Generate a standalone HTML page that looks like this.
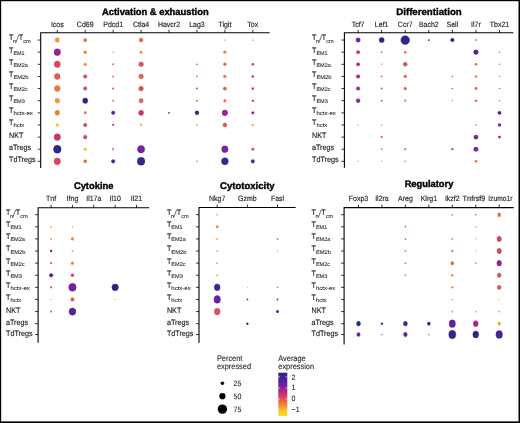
<!DOCTYPE html>
<html><head><meta charset="utf-8"><style>
html,body{margin:0;padding:0;background:#fff;}
.wrap{position:relative;width:520px;height:423px;overflow:hidden;background:#fff;}
svg{position:absolute;left:0;top:0;font-family:"Liberation Sans",sans-serif;will-change:transform;text-rendering:geometricPrecision;}
text{stroke:#231f20;stroke-width:0.15px;paint-order:fill;}
text[font-weight=bold]{stroke:#000;stroke-width:0.4px;}
text.s{stroke-width:0.08px;}
text.l{stroke-width:0.1px;}
</style></head><body><div class="wrap">
<svg width="520" height="423" viewBox="0 0 520 423" font-family="Liberation Sans, sans-serif">
<rect x="0" y="0" width="520" height="1.2" fill="#000"/><rect x="0" y="0" width="1.15" height="423" fill="#000"/><rect x="518.5" y="0" width="1.5" height="423" fill="#000"/><rect x="0" y="421.4" width="520" height="1.6" fill="#000"/>
<text x="155.3" y="14.6" text-anchor="middle" font-weight="bold" font-size="9.6" fill="#000" textLength="106.7" lengthAdjust="spacingAndGlyphs">Activation &amp; exhaustion</text>
<path d="M40.7 167.9V32.75H269.7" fill="none" stroke="#000" stroke-width="1.1"/>
<line x1="57.3" y1="32.75" x2="57.3" y2="29.75" stroke="#000" stroke-width="0.8"/>
<text transform="translate(57.3 26.6) scale(1 1.1)" text-anchor="middle" font-size="7.0" fill="#231f20">Icos</text>
<line x1="85.23" y1="32.75" x2="85.23" y2="29.75" stroke="#000" stroke-width="0.8"/>
<text transform="translate(85.23 26.6) scale(1 1.1)" text-anchor="middle" font-size="7.0" fill="#231f20">Cd69</text>
<line x1="113.16" y1="32.75" x2="113.16" y2="29.75" stroke="#000" stroke-width="0.8"/>
<text transform="translate(113.16 26.6) scale(1 1.1)" text-anchor="middle" font-size="7.0" fill="#231f20">Pdcd1</text>
<line x1="141.09" y1="32.75" x2="141.09" y2="29.75" stroke="#000" stroke-width="0.8"/>
<text transform="translate(141.09 26.6) scale(1 1.1)" text-anchor="middle" font-size="7.0" fill="#231f20">Ctla4</text>
<line x1="169.02" y1="32.75" x2="169.02" y2="29.75" stroke="#000" stroke-width="0.8"/>
<text transform="translate(169.02 26.6) scale(1 1.1)" text-anchor="middle" font-size="7.0" fill="#231f20">Havcr2</text>
<line x1="196.95" y1="32.75" x2="196.95" y2="29.75" stroke="#000" stroke-width="0.8"/>
<text transform="translate(196.95 26.6) scale(1 1.1)" text-anchor="middle" font-size="7.0" fill="#231f20">Lag3</text>
<line x1="224.88" y1="32.75" x2="224.88" y2="29.75" stroke="#000" stroke-width="0.8"/>
<text transform="translate(224.88 26.6) scale(1 1.1)" text-anchor="middle" font-size="7.0" fill="#231f20">Tigit</text>
<line x1="252.81" y1="32.75" x2="252.81" y2="29.75" stroke="#000" stroke-width="0.8"/>
<text transform="translate(252.81 26.6) scale(1 1.1)" text-anchor="middle" font-size="7.0" fill="#231f20">Tox</text>
<line x1="40.7" y1="40.05" x2="37.7" y2="40.05" stroke="#000" stroke-width="0.8"/>
<text transform="translate(9 40.45) scale(1 1.1)" font-size="7.2" fill="#231f20">T</text>
<text x="13.1" y="42.85" font-size="5.5" class="s" fill="#231f20">n</text>
<line x1="15.9" y1="42.65" x2="18.7" y2="35.25" stroke="#231f20" stroke-width="0.65"/>
<text transform="translate(18.8 40.45) scale(1 1.1)" font-size="7.2" fill="#231f20">T</text>
<text x="23.3" y="42.85" font-size="5.5" class="s" fill="#231f20" textLength="7.5" lengthAdjust="spacingAndGlyphs">cm</text>
<line x1="40.7" y1="52.18" x2="37.7" y2="52.18" stroke="#000" stroke-width="0.8"/>
<text transform="translate(9 52.58) scale(1 1.1)" font-size="7.2" fill="#231f20">T</text>
<text x="13.4" y="54.68" font-size="5.5" class="s" fill="#231f20" textLength="11.2" lengthAdjust="spacingAndGlyphs">EM1</text>
<line x1="40.7" y1="64.31" x2="37.7" y2="64.31" stroke="#000" stroke-width="0.8"/>
<text transform="translate(9 64.71) scale(1 1.1)" font-size="7.2" fill="#231f20">T</text>
<text x="13.4" y="66.81" font-size="5.5" class="s" fill="#231f20" textLength="14.5" lengthAdjust="spacingAndGlyphs">EM2a</text>
<line x1="40.7" y1="76.44" x2="37.7" y2="76.44" stroke="#000" stroke-width="0.8"/>
<text transform="translate(9 76.84) scale(1 1.1)" font-size="7.2" fill="#231f20">T</text>
<text x="13.4" y="78.94" font-size="5.5" class="s" fill="#231f20" textLength="15.2" lengthAdjust="spacingAndGlyphs">EM2b</text>
<line x1="40.7" y1="88.57" x2="37.7" y2="88.57" stroke="#000" stroke-width="0.8"/>
<text transform="translate(9 88.97) scale(1 1.1)" font-size="7.2" fill="#231f20">T</text>
<text x="13.4" y="91.07" font-size="5.5" class="s" fill="#231f20" textLength="14.2" lengthAdjust="spacingAndGlyphs">EM2c</text>
<line x1="40.7" y1="100.7" x2="37.7" y2="100.7" stroke="#000" stroke-width="0.8"/>
<text transform="translate(9 101.1) scale(1 1.1)" font-size="7.2" fill="#231f20">T</text>
<text x="13.4" y="103.2" font-size="5.5" class="s" fill="#231f20" textLength="11.5" lengthAdjust="spacingAndGlyphs">EM3</text>
<line x1="40.7" y1="112.83" x2="37.7" y2="112.83" stroke="#000" stroke-width="0.8"/>
<text transform="translate(9 113.23) scale(1 1.1)" font-size="7.2" fill="#231f20">T</text>
<text x="13.4" y="115.33" font-size="5.5" class="s" fill="#231f20" textLength="19.4" lengthAdjust="spacingAndGlyphs">hctx-ex</text>
<line x1="40.7" y1="124.96" x2="37.7" y2="124.96" stroke="#000" stroke-width="0.8"/>
<text transform="translate(9 125.36) scale(1 1.1)" font-size="7.2" fill="#231f20">T</text>
<text x="13.4" y="127.46" font-size="5.5" class="s" fill="#231f20" textLength="10.9" lengthAdjust="spacingAndGlyphs">hctx</text>
<line x1="40.7" y1="137.09" x2="37.7" y2="137.09" stroke="#000" stroke-width="0.8"/>
<text transform="translate(9 138.19) scale(1 1.1)" font-size="7.2" fill="#231f20">NKT</text>
<line x1="40.7" y1="149.22" x2="37.7" y2="149.22" stroke="#000" stroke-width="0.8"/>
<text transform="translate(9 150.32) scale(1 1.1)" font-size="7.2" fill="#231f20">aTregs</text>
<line x1="40.7" y1="161.35" x2="37.7" y2="161.35" stroke="#000" stroke-width="0.8"/>
<text transform="translate(9 162.45) scale(1 1.1)" font-size="7.2" fill="#231f20">TdTregs</text>
<ellipse cx="57.3" cy="40.05" rx="2.15" ry="2.27" fill="#f89e29" stroke="#c67e20" stroke-width="0.4"/>
<ellipse cx="85.23" cy="40.05" rx="1.55" ry="1.64" fill="#ea6a43" stroke="#bb5435" stroke-width="0.4"/>
<ellipse cx="141.09" cy="40.05" rx="1.9" ry="2" fill="#ea6a43" stroke="#bb5435" stroke-width="0.4"/>
<ellipse cx="224.88" cy="40.05" rx="0.85" ry="0.89" fill="#f8a924"/>
<ellipse cx="252.81" cy="40.05" rx="0.85" ry="0.89" fill="#f8962c"/>
<ellipse cx="57.3" cy="52.18" rx="3.25" ry="3.42" fill="#9e2097" stroke="#7e1978" stroke-width="0.4"/>
<ellipse cx="85.23" cy="52.18" rx="1.65" ry="1.73" fill="#f78831"/>
<ellipse cx="113.16" cy="52.18" rx="0.75" ry="0.79" fill="#f68632"/>
<ellipse cx="141.09" cy="52.18" rx="1.5" ry="1.58" fill="#f8962c"/>
<ellipse cx="224.88" cy="52.18" rx="1.6" ry="1.68" fill="#f68632"/>
<ellipse cx="57.3" cy="64.31" rx="3.05" ry="3.21" fill="#dc475c" stroke="#b03849" stroke-width="0.4"/>
<ellipse cx="85.23" cy="64.31" rx="1.6" ry="1.68" fill="#f88e2e"/>
<ellipse cx="113.16" cy="64.31" rx="1" ry="1.05" fill="#e6604b"/>
<ellipse cx="141.09" cy="64.31" rx="2.3" ry="2.42" fill="#e15356" stroke="#b44244" stroke-width="0.4"/>
<ellipse cx="196.95" cy="64.31" rx="0.85" ry="0.89" fill="#e15356"/>
<ellipse cx="224.88" cy="64.31" rx="1.7" ry="1.78" fill="#ec6e40"/>
<ellipse cx="252.81" cy="64.31" rx="1.25" ry="1.31" fill="#d2336d"/>
<ellipse cx="57.3" cy="76.44" rx="2.85" ry="3" fill="#e55d4e" stroke="#b74a3e" stroke-width="0.4"/>
<ellipse cx="85.23" cy="76.44" rx="1.7" ry="1.79" fill="#dc475c" stroke="#b03849" stroke-width="0.4"/>
<ellipse cx="113.16" cy="76.44" rx="0.9" ry="0.95" fill="#e86448"/>
<ellipse cx="141.09" cy="76.44" rx="2.3" ry="2.42" fill="#ea6a43" stroke="#bb5435" stroke-width="0.4"/>
<ellipse cx="196.95" cy="76.44" rx="0.8" ry="0.84" fill="#e86448"/>
<ellipse cx="224.88" cy="76.44" rx="1.7" ry="1.78" fill="#f37e35"/>
<ellipse cx="252.81" cy="76.44" rx="1.25" ry="1.31" fill="#ca2d77"/>
<ellipse cx="57.3" cy="88.57" rx="2.8" ry="2.95" fill="#ee743b" stroke="#be5c2f" stroke-width="0.4"/>
<ellipse cx="85.23" cy="88.57" rx="1.7" ry="1.79" fill="#de4b5a" stroke="#b13c48" stroke-width="0.4"/>
<ellipse cx="113.16" cy="88.57" rx="1" ry="1.05" fill="#dc475c"/>
<ellipse cx="141.09" cy="88.57" rx="2.3" ry="2.42" fill="#df4e59" stroke="#b23e47" stroke-width="0.4"/>
<ellipse cx="196.95" cy="88.57" rx="1" ry="1.05" fill="#d63b65"/>
<ellipse cx="224.88" cy="88.57" rx="1.6" ry="1.69" fill="#e6604b" stroke="#b84c3c" stroke-width="0.4"/>
<ellipse cx="252.81" cy="88.57" rx="1.25" ry="1.31" fill="#ca2d77"/>
<ellipse cx="57.3" cy="100.7" rx="2.3" ry="2.42" fill="#f89e29" stroke="#c67e20" stroke-width="0.4"/>
<ellipse cx="85.23" cy="100.7" rx="2.55" ry="2.69" fill="#2b268a" stroke="#221e6e" stroke-width="0.4"/>
<ellipse cx="113.16" cy="100.7" rx="0.95" ry="1" fill="#e86448"/>
<ellipse cx="141.09" cy="100.7" rx="2.15" ry="2.27" fill="#ea6a43" stroke="#bb5435" stroke-width="0.4"/>
<ellipse cx="196.95" cy="100.7" rx="0.9" ry="0.95" fill="#dc475c"/>
<ellipse cx="224.88" cy="100.7" rx="1.6" ry="1.68" fill="#f68632"/>
<ellipse cx="252.81" cy="100.7" rx="1.15" ry="1.21" fill="#d73e62"/>
<ellipse cx="57.3" cy="112.83" rx="2.35" ry="2.48" fill="#f37e35" stroke="#c2642a" stroke-width="0.4"/>
<ellipse cx="85.23" cy="112.83" rx="1.4" ry="1.47" fill="#ec6e40"/>
<ellipse cx="113.16" cy="112.83" rx="1.7" ry="1.79" fill="#4c239c" stroke="#3c1c7c" stroke-width="0.4"/>
<ellipse cx="141.09" cy="112.83" rx="2.45" ry="2.58" fill="#d2336d" stroke="#a82857" stroke-width="0.4"/>
<ellipse cx="169.02" cy="112.83" rx="0.85" ry="0.89" fill="#382594"/>
<ellipse cx="196.95" cy="112.83" rx="1.9" ry="2" fill="#2b268a" stroke="#221e6e" stroke-width="0.4"/>
<ellipse cx="224.88" cy="112.83" rx="2.8" ry="2.95" fill="#a22096" stroke="#811978" stroke-width="0.4"/>
<ellipse cx="252.81" cy="112.83" rx="1.5" ry="1.58" fill="#ac2192"/>
<ellipse cx="57.3" cy="124.96" rx="1.7" ry="1.78" fill="#f8c820"/>
<ellipse cx="85.23" cy="124.96" rx="1.7" ry="1.79" fill="#dc475c" stroke="#b03849" stroke-width="0.4"/>
<ellipse cx="113.16" cy="124.96" rx="1.05" ry="1.1" fill="#d2336d"/>
<ellipse cx="141.09" cy="124.96" rx="1.05" ry="1.1" fill="#f89e29"/>
<ellipse cx="196.95" cy="124.96" rx="0.85" ry="0.89" fill="#f68632"/>
<ellipse cx="224.88" cy="124.96" rx="1.9" ry="2" fill="#e15356" stroke="#b44244" stroke-width="0.4"/>
<ellipse cx="252.81" cy="124.96" rx="0.95" ry="1" fill="#f37e35"/>
<ellipse cx="57.3" cy="137.09" rx="3.2" ry="3.37" fill="#d2336d" stroke="#a82857" stroke-width="0.4"/>
<ellipse cx="85.23" cy="137.09" rx="1.8" ry="1.9" fill="#da445e" stroke="#ae364b" stroke-width="0.4"/>
<ellipse cx="57.3" cy="149.22" rx="3.8" ry="4" fill="#2f258d" stroke="#251d70" stroke-width="0.4"/>
<ellipse cx="85.23" cy="149.22" rx="1.4" ry="1.47" fill="#f8b820"/>
<ellipse cx="113.16" cy="149.22" rx="1.05" ry="1.1" fill="#e96746"/>
<ellipse cx="141.09" cy="149.22" rx="3.6" ry="3.79" fill="#7c209f" stroke="#63197f" stroke-width="0.4"/>
<ellipse cx="224.88" cy="149.22" rx="3.2" ry="3.37" fill="#84209d" stroke="#69197d" stroke-width="0.4"/>
<ellipse cx="252.81" cy="149.22" rx="1.4" ry="1.47" fill="#dc475c"/>
<ellipse cx="57.3" cy="161.35" rx="3.2" ry="3.37" fill="#da445e" stroke="#ae364b" stroke-width="0.4"/>
<ellipse cx="85.23" cy="161.35" rx="1.7" ry="1.78" fill="#ea6a43"/>
<ellipse cx="113.16" cy="161.35" rx="1.7" ry="1.79" fill="#44249b" stroke="#361c7c" stroke-width="0.4"/>
<ellipse cx="141.09" cy="161.35" rx="3.8" ry="4" fill="#342590" stroke="#291d73" stroke-width="0.4"/>
<ellipse cx="196.95" cy="161.35" rx="0.85" ry="0.89" fill="#f78831"/>
<ellipse cx="224.88" cy="161.35" rx="3.4" ry="3.58" fill="#3d2498" stroke="#301c79" stroke-width="0.4"/>
<ellipse cx="252.81" cy="161.35" rx="1.7" ry="1.79" fill="#50239d" stroke="#401c7d" stroke-width="0.4"/>
<text x="429" y="14.7" text-anchor="middle" font-weight="bold" font-size="9.6" fill="#000" textLength="65.4" lengthAdjust="spacingAndGlyphs">Differentiation</text>
<path d="M344.4 167.8V32.8H513.3" fill="none" stroke="#000" stroke-width="1.1"/>
<line x1="358.1" y1="32.8" x2="358.1" y2="29.8" stroke="#000" stroke-width="0.8"/>
<text transform="translate(358.1 26.6) scale(1 1.1)" text-anchor="middle" font-size="7.0" fill="#231f20">Tcf7</text>
<line x1="381.67" y1="32.8" x2="381.67" y2="29.8" stroke="#000" stroke-width="0.8"/>
<text transform="translate(381.67 26.6) scale(1 1.1)" text-anchor="middle" font-size="7.0" fill="#231f20">Lef1</text>
<line x1="405.24" y1="32.8" x2="405.24" y2="29.8" stroke="#000" stroke-width="0.8"/>
<text transform="translate(405.24 26.6) scale(1 1.1)" text-anchor="middle" font-size="7.0" fill="#231f20">Ccr7</text>
<line x1="428.81" y1="32.8" x2="428.81" y2="29.8" stroke="#000" stroke-width="0.8"/>
<text transform="translate(428.81 26.6) scale(1 1.1)" text-anchor="middle" font-size="7.0" fill="#231f20">Bach2</text>
<line x1="452.38" y1="32.8" x2="452.38" y2="29.8" stroke="#000" stroke-width="0.8"/>
<text transform="translate(452.38 26.6) scale(1 1.1)" text-anchor="middle" font-size="7.0" fill="#231f20">Sell</text>
<line x1="475.95" y1="32.8" x2="475.95" y2="29.8" stroke="#000" stroke-width="0.8"/>
<text transform="translate(475.95 26.6) scale(1 1.1)" text-anchor="middle" font-size="7.0" fill="#231f20">Il7r</text>
<line x1="499.52" y1="32.8" x2="499.52" y2="29.8" stroke="#000" stroke-width="0.8"/>
<text transform="translate(499.52 26.6) scale(1 1.1)" text-anchor="middle" font-size="7.0" fill="#231f20">Tbx21</text>
<line x1="344.4" y1="40.05" x2="341.4" y2="40.05" stroke="#000" stroke-width="0.8"/>
<text transform="translate(312 40.45) scale(1 1.1)" font-size="7.2" fill="#231f20">T</text>
<text x="316.1" y="42.85" font-size="5.5" class="s" fill="#231f20">n</text>
<line x1="318.9" y1="42.65" x2="321.7" y2="35.25" stroke="#231f20" stroke-width="0.65"/>
<text transform="translate(321.8 40.45) scale(1 1.1)" font-size="7.2" fill="#231f20">T</text>
<text x="326.3" y="42.85" font-size="5.5" class="s" fill="#231f20" textLength="7.5" lengthAdjust="spacingAndGlyphs">cm</text>
<line x1="344.4" y1="52.18" x2="341.4" y2="52.18" stroke="#000" stroke-width="0.8"/>
<text transform="translate(312 52.58) scale(1 1.1)" font-size="7.2" fill="#231f20">T</text>
<text x="316.4" y="54.68" font-size="5.5" class="s" fill="#231f20" textLength="11.2" lengthAdjust="spacingAndGlyphs">EM1</text>
<line x1="344.4" y1="64.31" x2="341.4" y2="64.31" stroke="#000" stroke-width="0.8"/>
<text transform="translate(312 64.71) scale(1 1.1)" font-size="7.2" fill="#231f20">T</text>
<text x="316.4" y="66.81" font-size="5.5" class="s" fill="#231f20" textLength="14.5" lengthAdjust="spacingAndGlyphs">EM2a</text>
<line x1="344.4" y1="76.44" x2="341.4" y2="76.44" stroke="#000" stroke-width="0.8"/>
<text transform="translate(312 76.84) scale(1 1.1)" font-size="7.2" fill="#231f20">T</text>
<text x="316.4" y="78.94" font-size="5.5" class="s" fill="#231f20" textLength="15.2" lengthAdjust="spacingAndGlyphs">EM2b</text>
<line x1="344.4" y1="88.57" x2="341.4" y2="88.57" stroke="#000" stroke-width="0.8"/>
<text transform="translate(312 88.97) scale(1 1.1)" font-size="7.2" fill="#231f20">T</text>
<text x="316.4" y="91.07" font-size="5.5" class="s" fill="#231f20" textLength="14.2" lengthAdjust="spacingAndGlyphs">EM2c</text>
<line x1="344.4" y1="100.7" x2="341.4" y2="100.7" stroke="#000" stroke-width="0.8"/>
<text transform="translate(312 101.1) scale(1 1.1)" font-size="7.2" fill="#231f20">T</text>
<text x="316.4" y="103.2" font-size="5.5" class="s" fill="#231f20" textLength="11.5" lengthAdjust="spacingAndGlyphs">EM3</text>
<line x1="344.4" y1="112.83" x2="341.4" y2="112.83" stroke="#000" stroke-width="0.8"/>
<text transform="translate(312 113.23) scale(1 1.1)" font-size="7.2" fill="#231f20">T</text>
<text x="316.4" y="115.33" font-size="5.5" class="s" fill="#231f20" textLength="19.4" lengthAdjust="spacingAndGlyphs">hctx-ex</text>
<line x1="344.4" y1="124.96" x2="341.4" y2="124.96" stroke="#000" stroke-width="0.8"/>
<text transform="translate(312 125.36) scale(1 1.1)" font-size="7.2" fill="#231f20">T</text>
<text x="316.4" y="127.46" font-size="5.5" class="s" fill="#231f20" textLength="10.9" lengthAdjust="spacingAndGlyphs">hctx</text>
<line x1="344.4" y1="137.09" x2="341.4" y2="137.09" stroke="#000" stroke-width="0.8"/>
<text transform="translate(312 138.19) scale(1 1.1)" font-size="7.2" fill="#231f20">NKT</text>
<line x1="344.4" y1="149.22" x2="341.4" y2="149.22" stroke="#000" stroke-width="0.8"/>
<text transform="translate(312 150.32) scale(1 1.1)" font-size="7.2" fill="#231f20">aTregs</text>
<line x1="344.4" y1="161.35" x2="341.4" y2="161.35" stroke="#000" stroke-width="0.8"/>
<text transform="translate(312 162.45) scale(1 1.1)" font-size="7.2" fill="#231f20">TdTregs</text>
<ellipse cx="358.1" cy="40.05" rx="2.2" ry="2.2" fill="#80209e" stroke="#66197e" stroke-width="0.4"/>
<ellipse cx="381.67" cy="40.05" rx="2.55" ry="2.55" fill="#2b268a" stroke="#221e6e" stroke-width="0.4"/>
<ellipse cx="405.24" cy="40.05" rx="4.35" ry="4.35" fill="#2b268a" stroke="#221e6e" stroke-width="0.4"/>
<ellipse cx="428.81" cy="40.05" rx="0.9" ry="0.9" fill="#2f258d"/>
<ellipse cx="452.38" cy="40.05" rx="1.8" ry="1.8" fill="#2b268a" stroke="#221e6e" stroke-width="0.4"/>
<ellipse cx="475.95" cy="40.05" rx="1.1" ry="1.1" fill="#f8922d"/>
<ellipse cx="358.1" cy="52.18" rx="1.65" ry="1.65" fill="#d2336d" stroke="#a82857" stroke-width="0.4"/>
<ellipse cx="381.67" cy="52.18" rx="0.9" ry="0.9" fill="#ea6a43"/>
<ellipse cx="405.24" cy="52.18" rx="1.3" ry="1.3" fill="#ec6e40"/>
<ellipse cx="475.95" cy="52.18" rx="2.35" ry="2.35" fill="#60219f" stroke="#4c1a7f" stroke-width="0.4"/>
<ellipse cx="499.52" cy="52.18" rx="0.8" ry="0.8" fill="#e96746"/>
<ellipse cx="358.1" cy="64.31" rx="1.65" ry="1.65" fill="#b8258a" stroke="#931d6e" stroke-width="0.4"/>
<ellipse cx="381.67" cy="64.31" rx="0.8" ry="0.8" fill="#f78831"/>
<ellipse cx="405.24" cy="64.31" rx="2" ry="2" fill="#e15356" stroke="#b44244" stroke-width="0.4"/>
<ellipse cx="475.95" cy="64.31" rx="1.3" ry="1.3" fill="#ea6a43"/>
<ellipse cx="499.52" cy="64.31" rx="0.8" ry="0.8" fill="#e96746"/>
<ellipse cx="358.1" cy="76.44" rx="1.8" ry="1.8" fill="#b8258a" stroke="#931d6e" stroke-width="0.4"/>
<ellipse cx="381.67" cy="76.44" rx="0.9" ry="0.9" fill="#e86448"/>
<ellipse cx="405.24" cy="76.44" rx="1.65" ry="1.65" fill="#e96746"/>
<ellipse cx="452.38" cy="76.44" rx="0.8" ry="0.8" fill="#dc475c"/>
<ellipse cx="475.95" cy="76.44" rx="1.3" ry="1.3" fill="#f37e35"/>
<ellipse cx="499.52" cy="76.44" rx="0.8" ry="0.8" fill="#f37e35"/>
<ellipse cx="358.1" cy="88.57" rx="1.8" ry="1.8" fill="#b2238e" stroke="#8e1c71" stroke-width="0.4"/>
<ellipse cx="381.67" cy="88.57" rx="0.95" ry="0.95" fill="#dc475c"/>
<ellipse cx="405.24" cy="88.57" rx="1.65" ry="1.65" fill="#e6604b"/>
<ellipse cx="452.38" cy="88.57" rx="0.8" ry="0.8" fill="#d2336d"/>
<ellipse cx="475.95" cy="88.57" rx="1.45" ry="1.45" fill="#ea6a43"/>
<ellipse cx="499.52" cy="88.57" rx="0.8" ry="0.8" fill="#df4e59"/>
<ellipse cx="358.1" cy="100.7" rx="2" ry="2" fill="#972099" stroke="#78197a" stroke-width="0.4"/>
<ellipse cx="381.67" cy="100.7" rx="0.95" ry="0.95" fill="#e15356"/>
<ellipse cx="405.24" cy="100.7" rx="1.1" ry="1.1" fill="#ee743b"/>
<ellipse cx="452.38" cy="100.7" rx="0.6" ry="0.6" fill="#df4e59"/>
<ellipse cx="475.95" cy="100.7" rx="1.3" ry="1.3" fill="#ec6e40"/>
<ellipse cx="499.52" cy="100.7" rx="0.8" ry="0.8" fill="#e55d4e"/>
<ellipse cx="499.52" cy="112.83" rx="1.65" ry="1.65" fill="#44249b" stroke="#361c7c" stroke-width="0.4"/>
<ellipse cx="358.1" cy="124.96" rx="0.8" ry="0.8" fill="#f89e29"/>
<ellipse cx="381.67" cy="124.96" rx="0.8" ry="0.8" fill="#f68632"/>
<ellipse cx="475.95" cy="124.96" rx="0.9" ry="0.9" fill="#f8962c"/>
<ellipse cx="499.52" cy="124.96" rx="1.65" ry="1.65" fill="#7820a0"/>
<ellipse cx="381.67" cy="137.09" rx="1.1" ry="1.1" fill="#e15356"/>
<ellipse cx="475.95" cy="137.09" rx="2.2" ry="2.2" fill="#8b209b" stroke="#6f197c" stroke-width="0.4"/>
<ellipse cx="499.52" cy="137.09" rx="1.45" ry="1.45" fill="#b2238e"/>
<ellipse cx="381.67" cy="149.22" rx="0.9" ry="0.9" fill="#ee743b"/>
<ellipse cx="405.24" cy="149.22" rx="1.1" ry="1.1" fill="#ea6a43"/>
<ellipse cx="452.38" cy="149.22" rx="1.1" ry="1.1" fill="#b2238e"/>
<ellipse cx="475.95" cy="149.22" rx="2.2" ry="2.2" fill="#84209d" stroke="#69197d" stroke-width="0.4"/>
<ellipse cx="358.1" cy="161.35" rx="0.75" ry="0.75" fill="#f8a526"/>
<ellipse cx="381.67" cy="161.35" rx="0.75" ry="0.75" fill="#f89e29"/>
<ellipse cx="405.24" cy="161.35" rx="0.9" ry="0.9" fill="#f68632"/>
<ellipse cx="475.95" cy="161.35" rx="1.3" ry="1.3" fill="#ee743b"/>
<text x="93.7" y="188.6" text-anchor="middle" font-weight="bold" font-size="9.6" fill="#000" textLength="39.6" lengthAdjust="spacingAndGlyphs">Cytokine</text>
<path d="M38.1 342.8V207.8H149.2" fill="none" stroke="#000" stroke-width="1.1"/>
<line x1="51.1" y1="207.8" x2="51.1" y2="204.8" stroke="#000" stroke-width="0.8"/>
<text transform="translate(51.1 200.9) scale(1 1.1)" text-anchor="middle" font-size="7.0" fill="#231f20">Tnf</text>
<line x1="72.45" y1="207.8" x2="72.45" y2="204.8" stroke="#000" stroke-width="0.8"/>
<text transform="translate(72.45 200.9) scale(1 1.1)" text-anchor="middle" font-size="7.0" fill="#231f20">Ifng</text>
<line x1="93.8" y1="207.8" x2="93.8" y2="204.8" stroke="#000" stroke-width="0.8"/>
<text transform="translate(93.8 200.9) scale(1 1.1)" text-anchor="middle" font-size="7.0" fill="#231f20">Il17a</text>
<line x1="115.15" y1="207.8" x2="115.15" y2="204.8" stroke="#000" stroke-width="0.8"/>
<text transform="translate(115.15 200.9) scale(1 1.1)" text-anchor="middle" font-size="7.0" fill="#231f20">Il10</text>
<line x1="136.5" y1="207.8" x2="136.5" y2="204.8" stroke="#000" stroke-width="0.8"/>
<text transform="translate(136.5 200.9) scale(1 1.1)" text-anchor="middle" font-size="7.0" fill="#231f20">Il21</text>
<line x1="38.1" y1="214.7" x2="35.1" y2="214.7" stroke="#000" stroke-width="0.8"/>
<text transform="translate(6 215.1) scale(1 1.1)" font-size="7.2" fill="#231f20">T</text>
<text x="10.1" y="217.5" font-size="5.5" class="s" fill="#231f20">n</text>
<line x1="12.9" y1="217.3" x2="15.7" y2="209.9" stroke="#231f20" stroke-width="0.65"/>
<text transform="translate(15.8 215.1) scale(1 1.1)" font-size="7.2" fill="#231f20">T</text>
<text x="20.3" y="217.5" font-size="5.5" class="s" fill="#231f20" textLength="7.5" lengthAdjust="spacingAndGlyphs">cm</text>
<line x1="38.1" y1="226.81" x2="35.1" y2="226.81" stroke="#000" stroke-width="0.8"/>
<text transform="translate(6 227.21) scale(1 1.1)" font-size="7.2" fill="#231f20">T</text>
<text x="10.4" y="229.31" font-size="5.5" class="s" fill="#231f20" textLength="11.2" lengthAdjust="spacingAndGlyphs">EM1</text>
<line x1="38.1" y1="238.92" x2="35.1" y2="238.92" stroke="#000" stroke-width="0.8"/>
<text transform="translate(6 239.32) scale(1 1.1)" font-size="7.2" fill="#231f20">T</text>
<text x="10.4" y="241.42" font-size="5.5" class="s" fill="#231f20" textLength="14.5" lengthAdjust="spacingAndGlyphs">EM2a</text>
<line x1="38.1" y1="251.03" x2="35.1" y2="251.03" stroke="#000" stroke-width="0.8"/>
<text transform="translate(6 251.43) scale(1 1.1)" font-size="7.2" fill="#231f20">T</text>
<text x="10.4" y="253.53" font-size="5.5" class="s" fill="#231f20" textLength="15.2" lengthAdjust="spacingAndGlyphs">EM2b</text>
<line x1="38.1" y1="263.14" x2="35.1" y2="263.14" stroke="#000" stroke-width="0.8"/>
<text transform="translate(6 263.54) scale(1 1.1)" font-size="7.2" fill="#231f20">T</text>
<text x="10.4" y="265.64" font-size="5.5" class="s" fill="#231f20" textLength="14.2" lengthAdjust="spacingAndGlyphs">EM2c</text>
<line x1="38.1" y1="275.25" x2="35.1" y2="275.25" stroke="#000" stroke-width="0.8"/>
<text transform="translate(6 275.65) scale(1 1.1)" font-size="7.2" fill="#231f20">T</text>
<text x="10.4" y="277.75" font-size="5.5" class="s" fill="#231f20" textLength="11.5" lengthAdjust="spacingAndGlyphs">EM3</text>
<line x1="38.1" y1="287.36" x2="35.1" y2="287.36" stroke="#000" stroke-width="0.8"/>
<text transform="translate(6 287.76) scale(1 1.1)" font-size="7.2" fill="#231f20">T</text>
<text x="10.4" y="289.86" font-size="5.5" class="s" fill="#231f20" textLength="19.4" lengthAdjust="spacingAndGlyphs">hctx-ex</text>
<line x1="38.1" y1="299.47" x2="35.1" y2="299.47" stroke="#000" stroke-width="0.8"/>
<text transform="translate(6 299.87) scale(1 1.1)" font-size="7.2" fill="#231f20">T</text>
<text x="10.4" y="301.97" font-size="5.5" class="s" fill="#231f20" textLength="10.9" lengthAdjust="spacingAndGlyphs">hctx</text>
<line x1="38.1" y1="311.58" x2="35.1" y2="311.58" stroke="#000" stroke-width="0.8"/>
<text transform="translate(6 312.68) scale(1 1.1)" font-size="7.2" fill="#231f20">NKT</text>
<line x1="38.1" y1="323.69" x2="35.1" y2="323.69" stroke="#000" stroke-width="0.8"/>
<text transform="translate(6 324.79) scale(1 1.1)" font-size="7.2" fill="#231f20">aTregs</text>
<line x1="38.1" y1="334.5" x2="35.1" y2="334.5" stroke="#000" stroke-width="0.8"/>
<text transform="translate(6 335.6) scale(1 1.1)" font-size="7.2" fill="#231f20">TdTregs</text>
<ellipse cx="51.1" cy="226.81" rx="0.85" ry="0.89" fill="#f8962c"/>
<ellipse cx="72.45" cy="226.81" rx="0.75" ry="0.79" fill="#f89e29"/>
<ellipse cx="51.1" cy="238.92" rx="0.85" ry="0.89" fill="#f68632"/>
<ellipse cx="72.45" cy="238.92" rx="1.5" ry="1.58" fill="#f37e35"/>
<ellipse cx="51.1" cy="251.03" rx="1.25" ry="1.31" fill="#972099"/>
<ellipse cx="72.45" cy="251.03" rx="0.85" ry="0.89" fill="#f88e2e"/>
<ellipse cx="51.1" cy="263.14" rx="1.05" ry="1.1" fill="#df4e59"/>
<ellipse cx="72.45" cy="263.14" rx="1.5" ry="1.58" fill="#f37e35"/>
<ellipse cx="51.1" cy="275.25" rx="1.7" ry="1.79" fill="#3d2498" stroke="#301c79" stroke-width="0.4"/>
<ellipse cx="72.45" cy="275.25" rx="1.7" ry="1.78" fill="#da445e"/>
<ellipse cx="51.1" cy="287.36" rx="1.05" ry="1.1" fill="#da445e"/>
<ellipse cx="72.45" cy="287.36" rx="3.7" ry="4" fill="#7820a0" stroke="#601980" stroke-width="0.4"/>
<ellipse cx="115.15" cy="287.36" rx="3.25" ry="3.45" fill="#2d258c" stroke="#241d70" stroke-width="0.4"/>
<ellipse cx="51.1" cy="299.47" rx="0.65" ry="0.68" fill="#f89e29"/>
<ellipse cx="72.45" cy="299.47" rx="1.7" ry="1.79" fill="#e55d4e" stroke="#b74a3e" stroke-width="0.4"/>
<ellipse cx="115.15" cy="299.47" rx="0.55" ry="0.58" fill="#f37e35"/>
<ellipse cx="51.1" cy="311.58" rx="0.95" ry="1" fill="#df4e59"/>
<ellipse cx="72.45" cy="311.58" rx="3.45" ry="3.6" fill="#58229e" stroke="#461b7e" stroke-width="0.4"/>
<text x="247.4" y="188.9" text-anchor="middle" font-weight="bold" font-size="9.6" fill="#000" textLength="54.6" lengthAdjust="spacingAndGlyphs">Cytotoxicity</text>
<path d="M199 342.8V207.5H295.6" fill="none" stroke="#000" stroke-width="1.1"/>
<line x1="217.2" y1="207.5" x2="217.2" y2="204.5" stroke="#000" stroke-width="0.8"/>
<text transform="translate(217.2 201.1) scale(1 1.1)" text-anchor="middle" font-size="7.0" fill="#231f20">Nkg7</text>
<line x1="247.35" y1="207.5" x2="247.35" y2="204.5" stroke="#000" stroke-width="0.8"/>
<text transform="translate(247.35 201.1) scale(1 1.1)" text-anchor="middle" font-size="7.0" fill="#231f20">Gzmb</text>
<line x1="277.5" y1="207.5" x2="277.5" y2="204.5" stroke="#000" stroke-width="0.8"/>
<text transform="translate(277.5 201.1) scale(1 1.1)" text-anchor="middle" font-size="7.0" fill="#231f20">Fasl</text>
<line x1="199" y1="214.7" x2="196" y2="214.7" stroke="#000" stroke-width="0.8"/>
<text transform="translate(166.9 215.1) scale(1 1.1)" font-size="7.2" fill="#231f20">T</text>
<text x="171" y="217.5" font-size="5.5" class="s" fill="#231f20">n</text>
<line x1="173.8" y1="217.3" x2="176.6" y2="209.9" stroke="#231f20" stroke-width="0.65"/>
<text transform="translate(176.7 215.1) scale(1 1.1)" font-size="7.2" fill="#231f20">T</text>
<text x="181.2" y="217.5" font-size="5.5" class="s" fill="#231f20" textLength="7.5" lengthAdjust="spacingAndGlyphs">cm</text>
<line x1="199" y1="226.81" x2="196" y2="226.81" stroke="#000" stroke-width="0.8"/>
<text transform="translate(166.9 227.21) scale(1 1.1)" font-size="7.2" fill="#231f20">T</text>
<text x="171.3" y="229.31" font-size="5.5" class="s" fill="#231f20" textLength="11.2" lengthAdjust="spacingAndGlyphs">EM1</text>
<line x1="199" y1="238.92" x2="196" y2="238.92" stroke="#000" stroke-width="0.8"/>
<text transform="translate(166.9 239.32) scale(1 1.1)" font-size="7.2" fill="#231f20">T</text>
<text x="171.3" y="241.42" font-size="5.5" class="s" fill="#231f20" textLength="14.5" lengthAdjust="spacingAndGlyphs">EM2a</text>
<line x1="199" y1="251.03" x2="196" y2="251.03" stroke="#000" stroke-width="0.8"/>
<text transform="translate(166.9 251.43) scale(1 1.1)" font-size="7.2" fill="#231f20">T</text>
<text x="171.3" y="253.53" font-size="5.5" class="s" fill="#231f20" textLength="15.2" lengthAdjust="spacingAndGlyphs">EM2b</text>
<line x1="199" y1="263.14" x2="196" y2="263.14" stroke="#000" stroke-width="0.8"/>
<text transform="translate(166.9 263.54) scale(1 1.1)" font-size="7.2" fill="#231f20">T</text>
<text x="171.3" y="265.64" font-size="5.5" class="s" fill="#231f20" textLength="14.2" lengthAdjust="spacingAndGlyphs">EM2c</text>
<line x1="199" y1="275.25" x2="196" y2="275.25" stroke="#000" stroke-width="0.8"/>
<text transform="translate(166.9 275.65) scale(1 1.1)" font-size="7.2" fill="#231f20">T</text>
<text x="171.3" y="277.75" font-size="5.5" class="s" fill="#231f20" textLength="11.5" lengthAdjust="spacingAndGlyphs">EM3</text>
<line x1="199" y1="287.36" x2="196" y2="287.36" stroke="#000" stroke-width="0.8"/>
<text transform="translate(166.9 287.76) scale(1 1.1)" font-size="7.2" fill="#231f20">T</text>
<text x="171.3" y="289.86" font-size="5.5" class="s" fill="#231f20" textLength="19.4" lengthAdjust="spacingAndGlyphs">hctx-ex</text>
<line x1="199" y1="299.47" x2="196" y2="299.47" stroke="#000" stroke-width="0.8"/>
<text transform="translate(166.9 299.87) scale(1 1.1)" font-size="7.2" fill="#231f20">T</text>
<text x="171.3" y="301.97" font-size="5.5" class="s" fill="#231f20" textLength="10.9" lengthAdjust="spacingAndGlyphs">hctx</text>
<line x1="199" y1="311.58" x2="196" y2="311.58" stroke="#000" stroke-width="0.8"/>
<text transform="translate(166.9 312.68) scale(1 1.1)" font-size="7.2" fill="#231f20">NKT</text>
<line x1="199" y1="323.69" x2="196" y2="323.69" stroke="#000" stroke-width="0.8"/>
<text transform="translate(166.9 324.79) scale(1 1.1)" font-size="7.2" fill="#231f20">aTregs</text>
<line x1="199" y1="334.5" x2="196" y2="334.5" stroke="#000" stroke-width="0.8"/>
<text transform="translate(166.9 335.6) scale(1 1.1)" font-size="7.2" fill="#231f20">TdTregs</text>
<ellipse cx="217.2" cy="214.7" rx="0.85" ry="0.95" fill="#f8b820"/>
<ellipse cx="217.2" cy="226.81" rx="1.35" ry="1.51" fill="#f37e35"/>
<ellipse cx="217.2" cy="238.92" rx="0.95" ry="1.06" fill="#f8ad23"/>
<ellipse cx="277.5" cy="238.92" rx="0.85" ry="0.95" fill="#e86448"/>
<ellipse cx="217.2" cy="251.03" rx="0.85" ry="0.95" fill="#f8ad23"/>
<ellipse cx="277.5" cy="251.03" rx="0.6" ry="0.67" fill="#f8962c"/>
<ellipse cx="217.2" cy="263.14" rx="0.95" ry="1.06" fill="#f8a526"/>
<ellipse cx="217.2" cy="275.25" rx="0.95" ry="1.06" fill="#f8a526"/>
<ellipse cx="217.2" cy="287.36" rx="2.9" ry="3.45" fill="#3d2498" stroke="#301c79" stroke-width="0.4"/>
<ellipse cx="247.35" cy="287.36" rx="0.5" ry="0.56" fill="#f89e29"/>
<ellipse cx="277.5" cy="287.36" rx="0.75" ry="0.84" fill="#e86448"/>
<ellipse cx="217.2" cy="299.47" rx="3.25" ry="3.85" fill="#6c219f" stroke="#561a7f" stroke-width="0.4"/>
<ellipse cx="247.35" cy="299.47" rx="0.95" ry="1.06" fill="#b2238e"/>
<ellipse cx="277.5" cy="299.47" rx="0.95" ry="1.06" fill="#972099"/>
<ellipse cx="217.2" cy="311.58" rx="2.9" ry="3.45" fill="#e15356" stroke="#b44244" stroke-width="0.4"/>
<ellipse cx="277.5" cy="311.58" rx="1.35" ry="1.51" fill="#32258f"/>
<ellipse cx="247.35" cy="323.69" rx="1.15" ry="1.29" fill="#2b268a"/>
<text x="429" y="187.2" text-anchor="middle" font-weight="bold" font-size="9.6" fill="#000" textLength="48.7" lengthAdjust="spacingAndGlyphs">Regulatory</text>
<path d="M344.1 344.6V207.6H513.7" fill="none" stroke="#000" stroke-width="1.1"/>
<line x1="358.5" y1="207.6" x2="358.5" y2="204.6" stroke="#000" stroke-width="0.8"/>
<text transform="translate(358.5 201.1) scale(1 1.1)" text-anchor="middle" font-size="7.0" fill="#231f20">Foxp3</text>
<line x1="381.95" y1="207.6" x2="381.95" y2="204.6" stroke="#000" stroke-width="0.8"/>
<text transform="translate(381.95 201.1) scale(1 1.1)" text-anchor="middle" font-size="7.0" fill="#231f20">Il2ra</text>
<line x1="405.4" y1="207.6" x2="405.4" y2="204.6" stroke="#000" stroke-width="0.8"/>
<text transform="translate(405.4 201.1) scale(1 1.1)" text-anchor="middle" font-size="7.0" fill="#231f20">Areg</text>
<line x1="428.85" y1="207.6" x2="428.85" y2="204.6" stroke="#000" stroke-width="0.8"/>
<text transform="translate(428.85 201.1) scale(1 1.1)" text-anchor="middle" font-size="7.0" fill="#231f20">Klrg1</text>
<line x1="452.3" y1="207.6" x2="452.3" y2="204.6" stroke="#000" stroke-width="0.8"/>
<text transform="translate(452.3 201.1) scale(1 1.1)" text-anchor="middle" font-size="7.0" fill="#231f20">Ikzf2</text>
<line x1="475.75" y1="207.6" x2="475.75" y2="204.6" stroke="#000" stroke-width="0.8"/>
<text transform="translate(474 201.1) scale(1 1.1)" text-anchor="middle" font-size="7.0" fill="#231f20" textLength="22.8" lengthAdjust="spacingAndGlyphs">Tnfrsf9</text>
<line x1="499.2" y1="207.6" x2="499.2" y2="204.6" stroke="#000" stroke-width="0.8"/>
<text transform="translate(500.3 201.1) scale(1 1.1)" text-anchor="middle" font-size="7.0" fill="#231f20" textLength="24.2" lengthAdjust="spacingAndGlyphs">Izumo1r</text>
<line x1="344.1" y1="214.7" x2="341.1" y2="214.7" stroke="#000" stroke-width="0.8"/>
<text transform="translate(311.5 215.1) scale(1 1.1)" font-size="7.2" fill="#231f20">T</text>
<text x="315.6" y="217.5" font-size="5.5" class="s" fill="#231f20">n</text>
<line x1="318.4" y1="217.3" x2="321.2" y2="209.9" stroke="#231f20" stroke-width="0.65"/>
<text transform="translate(321.3 215.1) scale(1 1.1)" font-size="7.2" fill="#231f20">T</text>
<text x="325.8" y="217.5" font-size="5.5" class="s" fill="#231f20" textLength="7.5" lengthAdjust="spacingAndGlyphs">cm</text>
<line x1="344.1" y1="226.81" x2="341.1" y2="226.81" stroke="#000" stroke-width="0.8"/>
<text transform="translate(311.5 227.21) scale(1 1.1)" font-size="7.2" fill="#231f20">T</text>
<text x="315.9" y="229.31" font-size="5.5" class="s" fill="#231f20" textLength="11.2" lengthAdjust="spacingAndGlyphs">EM1</text>
<line x1="344.1" y1="238.92" x2="341.1" y2="238.92" stroke="#000" stroke-width="0.8"/>
<text transform="translate(311.5 239.32) scale(1 1.1)" font-size="7.2" fill="#231f20">T</text>
<text x="315.9" y="241.42" font-size="5.5" class="s" fill="#231f20" textLength="14.5" lengthAdjust="spacingAndGlyphs">EM2a</text>
<line x1="344.1" y1="251.03" x2="341.1" y2="251.03" stroke="#000" stroke-width="0.8"/>
<text transform="translate(311.5 251.43) scale(1 1.1)" font-size="7.2" fill="#231f20">T</text>
<text x="315.9" y="253.53" font-size="5.5" class="s" fill="#231f20" textLength="15.2" lengthAdjust="spacingAndGlyphs">EM2b</text>
<line x1="344.1" y1="263.14" x2="341.1" y2="263.14" stroke="#000" stroke-width="0.8"/>
<text transform="translate(311.5 263.54) scale(1 1.1)" font-size="7.2" fill="#231f20">T</text>
<text x="315.9" y="265.64" font-size="5.5" class="s" fill="#231f20" textLength="14.2" lengthAdjust="spacingAndGlyphs">EM2c</text>
<line x1="344.1" y1="275.25" x2="341.1" y2="275.25" stroke="#000" stroke-width="0.8"/>
<text transform="translate(311.5 275.65) scale(1 1.1)" font-size="7.2" fill="#231f20">T</text>
<text x="315.9" y="277.75" font-size="5.5" class="s" fill="#231f20" textLength="11.5" lengthAdjust="spacingAndGlyphs">EM3</text>
<line x1="344.1" y1="287.36" x2="341.1" y2="287.36" stroke="#000" stroke-width="0.8"/>
<text transform="translate(311.5 287.76) scale(1 1.1)" font-size="7.2" fill="#231f20">T</text>
<text x="315.9" y="289.86" font-size="5.5" class="s" fill="#231f20" textLength="19.4" lengthAdjust="spacingAndGlyphs">hctx-ex</text>
<line x1="344.1" y1="299.47" x2="341.1" y2="299.47" stroke="#000" stroke-width="0.8"/>
<text transform="translate(311.5 299.87) scale(1 1.1)" font-size="7.2" fill="#231f20">T</text>
<text x="315.9" y="301.97" font-size="5.5" class="s" fill="#231f20" textLength="10.9" lengthAdjust="spacingAndGlyphs">hctx</text>
<line x1="344.1" y1="311.58" x2="341.1" y2="311.58" stroke="#000" stroke-width="0.8"/>
<text transform="translate(311.5 312.68) scale(1 1.1)" font-size="7.2" fill="#231f20">NKT</text>
<line x1="344.1" y1="323.69" x2="341.1" y2="323.69" stroke="#000" stroke-width="0.8"/>
<text transform="translate(311.5 324.79) scale(1 1.1)" font-size="7.2" fill="#231f20">aTregs</text>
<line x1="344.1" y1="334.5" x2="341.1" y2="334.5" stroke="#000" stroke-width="0.8"/>
<text transform="translate(311.5 335.6) scale(1 1.1)" font-size="7.2" fill="#231f20">TdTregs</text>
<ellipse cx="452.3" cy="214.7" rx="0.9" ry="1.01" fill="#f37e35"/>
<ellipse cx="475.75" cy="214.7" rx="0.8" ry="0.9" fill="#ea6a43"/>
<ellipse cx="499.2" cy="214.7" rx="1.65" ry="2.2" fill="#e96746"/>
<ellipse cx="405.4" cy="226.81" rx="0.9" ry="1.01" fill="#ea6a43"/>
<ellipse cx="475.75" cy="226.81" rx="0.75" ry="0.84" fill="#f8962c"/>
<ellipse cx="405.4" cy="238.92" rx="0.9" ry="1.01" fill="#ec6e40"/>
<ellipse cx="452.3" cy="238.92" rx="0.9" ry="1.01" fill="#f48234"/>
<ellipse cx="475.75" cy="238.92" rx="0.65" ry="0.73" fill="#f68632"/>
<ellipse cx="499.2" cy="238.92" rx="2.15" ry="2.7" fill="#da445e" stroke="#ae364b" stroke-width="0.4"/>
<ellipse cx="405.4" cy="251.03" rx="0.9" ry="1.01" fill="#f37e35"/>
<ellipse cx="452.3" cy="251.03" rx="1.1" ry="1.23" fill="#ec6e40"/>
<ellipse cx="475.75" cy="251.03" rx="0.6" ry="0.67" fill="#f88e2e"/>
<ellipse cx="499.2" cy="251.03" rx="2.15" ry="2.7" fill="#dc475c" stroke="#b03849" stroke-width="0.4"/>
<ellipse cx="405.4" cy="263.14" rx="0.9" ry="1.01" fill="#f48234"/>
<ellipse cx="452.3" cy="263.14" rx="1.65" ry="2" fill="#e96746"/>
<ellipse cx="475.75" cy="263.14" rx="0.75" ry="0.84" fill="#f37e35"/>
<ellipse cx="499.2" cy="263.14" rx="2.3" ry="2.8" fill="#972099" stroke="#78197a" stroke-width="0.4"/>
<ellipse cx="405.4" cy="275.25" rx="0.9" ry="1.01" fill="#f68632"/>
<ellipse cx="452.3" cy="275.25" rx="1.1" ry="1.23" fill="#f37e35"/>
<ellipse cx="499.2" cy="275.25" rx="1.8" ry="2.35" fill="#e15356" stroke="#b44244" stroke-width="0.4"/>
<ellipse cx="452.3" cy="287.36" rx="1.1" ry="1.23" fill="#f48234"/>
<ellipse cx="499.2" cy="287.36" rx="1.8" ry="2.2" fill="#e15356" stroke="#b44244" stroke-width="0.4"/>
<ellipse cx="452.3" cy="299.47" rx="0.75" ry="0.84" fill="#f89e29"/>
<ellipse cx="499.2" cy="299.47" rx="0.75" ry="0.84" fill="#f8c820"/>
<ellipse cx="452.3" cy="311.58" rx="0.9" ry="1.01" fill="#f78831"/>
<ellipse cx="475.75" cy="311.58" rx="0.75" ry="0.84" fill="#f78831"/>
<ellipse cx="499.2" cy="311.58" rx="0.9" ry="1.01" fill="#f8a526"/>
<ellipse cx="358.5" cy="323.69" rx="2" ry="2.35" fill="#2b268a" stroke="#221e6e" stroke-width="0.4"/>
<ellipse cx="381.95" cy="323.69" rx="1.1" ry="1.23" fill="#2b268a"/>
<ellipse cx="405.4" cy="323.69" rx="2" ry="2.35" fill="#3d2498" stroke="#301c79" stroke-width="0.4"/>
<ellipse cx="428.85" cy="323.69" rx="1.65" ry="1.85" fill="#2b268a"/>
<ellipse cx="452.3" cy="323.69" rx="3.15" ry="3.85" fill="#64219f" stroke="#501a7f" stroke-width="0.4"/>
<ellipse cx="475.75" cy="323.69" rx="2.4" ry="2.9" fill="#ac2192" stroke="#891a74" stroke-width="0.4"/>
<ellipse cx="499.2" cy="323.69" rx="1.5" ry="1.85" fill="#f89e29"/>
<ellipse cx="358.5" cy="334.5" rx="1.65" ry="2" fill="#7420a0" stroke="#5c1980" stroke-width="0.4"/>
<ellipse cx="381.95" cy="334.5" rx="0.65" ry="0.73" fill="#b8258a"/>
<ellipse cx="405.4" cy="334.5" rx="1.8" ry="2.2" fill="#64219f" stroke="#501a7f" stroke-width="0.4"/>
<ellipse cx="428.85" cy="334.5" rx="0.75" ry="0.84" fill="#e15356"/>
<ellipse cx="452.3" cy="334.5" rx="3.5" ry="4.2" fill="#342590" stroke="#291d73" stroke-width="0.4"/>
<ellipse cx="475.75" cy="334.5" rx="2.9" ry="3.55" fill="#2d258c" stroke="#241d70" stroke-width="0.4"/>
<ellipse cx="499.2" cy="334.5" rx="3.3" ry="4" fill="#48239c" stroke="#391c7c" stroke-width="0.4"/>
<text transform="translate(216.9 360.7) scale(1 1.1)" font-size="7.4" class="l" fill="#231f20">Percent</text>
<text transform="translate(216.9 368.8) scale(1 1.1)" font-size="7.4" class="l" fill="#231f20">expressed</text>
<circle cx="222.4" cy="383.3" r="1.7" fill="#000"/>
<text transform="translate(233.6 385.8) scale(1 1.1)" font-size="7.0" class="l" fill="#231f20">25</text>
<circle cx="222.4" cy="396.2" r="3.1" fill="#000"/>
<text transform="translate(233.6 398.7) scale(1 1.1)" font-size="7.0" class="l" fill="#231f20">50</text>
<circle cx="222.4" cy="409.1" r="4.7" fill="#000"/>
<text transform="translate(233.6 411.6) scale(1 1.1)" font-size="7.0" class="l" fill="#231f20">75</text>
<text transform="translate(278.3 360.7) scale(1 1.1)" font-size="7.4" class="l" fill="#231f20">Average</text>
<text transform="translate(278.3 368.8) scale(1 1.1)" font-size="7.4" class="l" fill="#231f20">expression</text>
<defs><linearGradient id="cb" x1="0" y1="0" x2="0" y2="1"><stop offset="0" stop-color="#262686"/><stop offset="0.1" stop-color="#40249a"/><stop offset="0.2" stop-color="#56229e"/><stop offset="0.3" stop-color="#7620a0"/><stop offset="0.36" stop-color="#9a2098"/><stop offset="0.4" stop-color="#aa2094"/><stop offset="0.45" stop-color="#c02884"/><stop offset="0.5" stop-color="#d03070"/><stop offset="0.55" stop-color="#d84060"/><stop offset="0.6" stop-color="#e05058"/><stop offset="0.65" stop-color="#e86448"/><stop offset="0.7" stop-color="#f07838"/><stop offset="0.75" stop-color="#f88a30"/><stop offset="0.8" stop-color="#f8a028"/><stop offset="0.85" stop-color="#f8b420"/><stop offset="0.9" stop-color="#f8c820"/><stop offset="0.95" stop-color="#f4d820"/><stop offset="1" stop-color="#f0e420"/></linearGradient></defs>
<rect x="278.3" y="372.7" width="9" height="43.3" fill="url(#cb)"/>
<line x1="278.3" y1="376.8" x2="280" y2="376.8" stroke="#fff" stroke-width="0.6"/>
<line x1="285.6" y1="376.8" x2="287.3" y2="376.8" stroke="#fff" stroke-width="0.6"/>
<text transform="translate(291.6 379.5) scale(1 1.1)" font-size="7.0" class="l" fill="#231f20">2</text>
<line x1="278.3" y1="388.1" x2="280" y2="388.1" stroke="#fff" stroke-width="0.6"/>
<line x1="285.6" y1="388.1" x2="287.3" y2="388.1" stroke="#fff" stroke-width="0.6"/>
<text transform="translate(291.6 390.1) scale(1 1.1)" font-size="7.0" class="l" fill="#231f20">1</text>
<line x1="278.3" y1="399.0" x2="280" y2="399.0" stroke="#fff" stroke-width="0.6"/>
<line x1="285.6" y1="399.0" x2="287.3" y2="399.0" stroke="#fff" stroke-width="0.6"/>
<text transform="translate(291.6 401.1) scale(1 1.1)" font-size="7.0" class="l" fill="#231f20">0</text>
<line x1="278.3" y1="409.8" x2="280" y2="409.8" stroke="#fff" stroke-width="0.6"/>
<line x1="285.6" y1="409.8" x2="287.3" y2="409.8" stroke="#fff" stroke-width="0.6"/>
<text transform="translate(291.6 412) scale(1 1.1)" font-size="7.0" class="l" fill="#231f20">−1</text>
</svg></div></body></html>
